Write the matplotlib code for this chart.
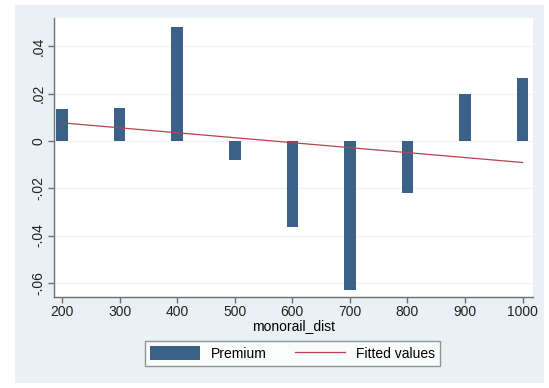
import numpy as np
import matplotlib
matplotlib.use("Agg")
import matplotlib.pyplot as plt
from matplotlib.patches import Rectangle, Patch
from matplotlib.lines import Line2D

plt.rcParams['font.family'] = ['Liberation Sans', 'DejaVu Sans']

monorail_dist = [200, 300, 400, 500, 600, 700, 800, 900, 1000]
premium = [0.0137, 0.0141, 0.0483, -0.0080, -0.0364, -0.0630, -0.0220, 0.0199, 0.0268]
yticks = [-0.06, -0.04, -0.02, 0, 0.02, 0.04]
ytick_labels = ["-.06", "-.04", "-.02", "0", ".02", ".04"]
xticks = [200, 300, 400, 500, 600, 700, 800, 900, 1000]

W, H = 549, 388
fig = plt.figure(figsize=(W / 100, H / 100), dpi=100, facecolor='white')
bg = '#eaf1f4'
fig.patches.append(Rectangle((15 / W, 1 - 383 / H), (544 - 15) / W, (383 - 5) / H,
                             transform=fig.transFigure, facecolor=bg, edgecolor='none', zorder=-10))

ax = fig.add_axes([54 / W, 1 - 297 / H, (533 - 54) / W, (297 - 18) / H])
ax.set_zorder(1)
ax.set_facecolor('white')

bar_color = '#3b6189'
line_color = '#b5434c'

ax.bar(monorail_dist, premium, width=20, color=bar_color, zorder=2)

coef = np.polyfit(monorail_dist, premium, 1)
xs = np.array([monorail_dist[0], monorail_dist[-1]])
ax.plot(xs, np.polyval(coef, xs), color=line_color, lw=0.9, zorder=3)

ax.set_xlim(186, 1018)
ax.set_ylim(-0.066, 0.052)
ax.set_yticks(yticks)
ax.set_yticklabels(ytick_labels, rotation=90, va='center', fontsize=10)
ax.set_xticks(xticks)
ax.set_xticklabels([str(v) for v in xticks], fontsize=10)
ax.set_xlabel("monorail_dist", fontsize=10, labelpad=0)

for y in yticks:
    ax.axhline(y, color='#eef3f5', lw=1.0, zorder=1)

for s in ['top', 'right']:
    ax.spines[s].set_visible(False)
for s in ['left', 'bottom']:
    ax.spines[s].set_color('#6e6e6e')
    ax.spines[s].set_linewidth(1.0)
ax.tick_params(axis='both', colors='#6e6e6e', labelcolor='#222222', length=4, width=1.0, pad=2)

handles = [Patch(facecolor=bar_color, edgecolor='none'),
           Line2D([0], [0], color=line_color, lw=0.9)]
leg = fig.legend(handles, ["Premium", "Fitted values"], ncol=2,
                 loc='center', bbox_to_anchor=((152 + 433) / 2 / W, 1 - (341 + 366) / 2 / H),
                 fontsize=10, frameon=True, fancybox=False, handlelength=3.6, handleheight=1.2,
                 columnspacing=2.0, handletextpad=0.8, borderpad=0.35)
leg.get_frame().set_edgecolor('#7a7a7a')
leg.get_frame().set_linewidth(1.0)
leg.get_frame().set_facecolor('white')

fig.savefig("out.png", dpi=100, facecolor=fig.get_facecolor())
